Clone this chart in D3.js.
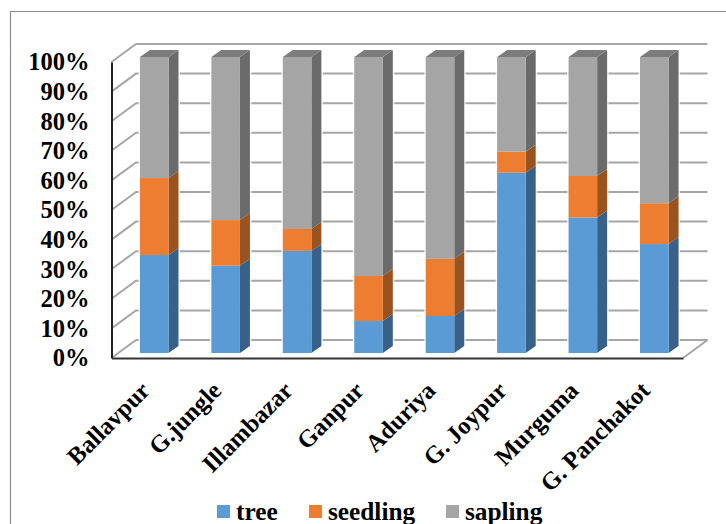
<!DOCTYPE html>
<html>
<head>
<meta charset="utf-8">
<script src="https://cdn.jsdelivr.net/npm/d3@7"></script>
<style>
    body { margin: 0; background: #fff; }
    text { font-family: "Liberation Serif", serif; font-weight: bold; fill: #000; }
</style>
</head>
<body>
<div id="chart"></div>
<script>
// values, percent of each stack
var categories = ['Ballavpur', 'G.jungle', 'Illambazar', 'Ganpur', 'Aduriya', 'G. Joypur', 'Murguma', 'G. Panchakot'];
var tree = [33.1, 29.5, 34.5, 10.8, 12.5, 60.9, 45.8, 36.8];
var seedling = [26.0, 15.4, 7.4, 15.2, 19.3, 7.1, 14.0, 13.8];
var sapling = [40.9, 55.1, 58.1, 74.0, 68.2, 32.0, 40.2, 49.4];
var seriesNames = ['tree', 'seedling', 'sapling'];
var yTicks = [0, 10, 20, 30, 40, 50, 60, 70, 80, 90, 100];

var width = 726, height = 524;
var frontColor = { tree: '#5b9bd5', seedling: '#ed7d31', sapling: '#a5a5a5' };
var sideColor = { tree: '#376189', seedling: '#9a521f', sapling: '#6b6b6b' };
var topColor = '#7c7c7c';

// depth of the bars, and of the floor/wall
var barDx = 10, barDy = -7;
var wallDx = 24.5, wallDy = -18;

var svg = d3.select('#chart').append('svg')
    .attr('width', width)
    .attr('height', height)
    .style('display', 'block');

// picture frame, only top and left show
svg.append('path')
    .attr('d', 'M10.5,524V11.5H726')
    .attr('fill', 'none')
    .attr('stroke', '#8c8c8c')
    .attr('stroke-width', 1.2);

var y = d3.scaleLinear().domain([0, 100]).range([358, 62]);
var barY = d3.scaleLinear().domain([0, 100]).range([353, 57]);
var x = d3.scaleBand().domain(categories).range([118.5, 690]).paddingInner(0.6).paddingOuter(0.3);

var floorLeft = 111.5, floorRight = 683;

// gridlines on back and side wall
var grid = svg.append('g').attr('fill', 'none').attr('stroke', '#a6a6a6').attr('stroke-width', 2);
grid.selectAll('path')
    .data(yTicks)
    .join('path')
    .attr('d', function (d) {
        return 'M' + floorLeft + ',' + y(d) + 'L' + (floorLeft + wallDx) + ',' + (y(d) + wallDy) + 'H' + (floorRight + wallDx);
    });
// right edge of the floor
grid.append('path')
    .attr('d', 'M' + floorRight + ',' + y(0) + 'L' + (floorRight + wallDx) + ',' + (y(0) + wallDy));

// stacked bars
var stack = d3.stack().keys(seriesNames);
var rows = categories.map(function (c, i) {
    return { cat: c, tree: tree[i], seedling: seedling[i], sapling: sapling[i] };
});
var layers = stack(rows);

var bars = svg.append('g');

// pale halo round each bar
bars.append('g').selectAll('rect')
    .data(categories)
    .join('rect')
    .attr('x', function (c) { return x(c) - 1.5; })
    .attr('y', barY(100) + barDy - 1.5)
    .attr('width', x.bandwidth() + barDx + 3)
    .attr('height', barY(0) - barY(100) - barDy + 3)
    .attr('fill', '#fff')
    .attr('opacity', 0.8);

layers.forEach(function (layer) {
    var g = bars.append('g');
    g.selectAll('path.side')
        .data(layer)
        .join('path')
        .attr('class', 'side')
        .attr('fill', sideColor[layer.key])
        .attr('d', function (d) {
            var x1 = x(d.data.cat) + x.bandwidth();
            return 'M' + x1 + ',' + barY(d[0]) + 'l' + barDx + ',' + barDy + 'V' + (barY(d[1]) + barDy) + 'l' + (-barDx) + ',' + (-barDy) + 'Z';
        });
    g.selectAll('rect')
        .data(layer)
        .join('rect')
        .attr('x', function (d) { return x(d.data.cat); })
        .attr('y', function (d) { return barY(d[1]); })
        .attr('width', x.bandwidth())
        .attr('height', function (d) { return barY(d[0]) - barY(d[1]); })
        .attr('fill', frontColor[layer.key]);
});
// bar tops
bars.append('g').selectAll('path')
    .data(categories)
    .join('path')
    .attr('fill', topColor)
    .attr('d', function (c) {
        return 'M' + x(c) + ',' + barY(100) + 'l' + barDx + ',' + barDy + 'h' + x.bandwidth() + 'l' + (-barDx) + ',' + (-barDy) + 'Z';
    });

// y axis
var yAxis = d3.axisLeft(y).tickValues(yTicks).tickSize(0).tickPadding(22)
    .tickFormat(function (d) { return d + '%'; });
var yG = svg.append('g')
    .attr('transform', 'translate(' + floorLeft + ',0)')
    .call(yAxis);
yG.select('.domain').attr('stroke', '#222').attr('stroke-width', 2);
yG.selectAll('text').attr('font-size', 24.5).attr('font-family', null).attr('dy', '0.32em');

// x axis
var xBand = d3.scaleBand().domain(categories).range([floorLeft, floorRight]);
var xAxis = d3.axisBottom(xBand).tickSize(0).tickPadding(0);
var xG = svg.append('g')
    .attr('transform', 'translate(0,' + y(0) + ')')
    .call(xAxis);
xG.select('.domain').attr('stroke', '#333').attr('stroke-width', 2);
xG.selectAll('text')
    .attr('font-size', 24.5)
    .attr('font-family', null)
    .attr('text-anchor', 'end')
    .attr('dy', null)
    .attr('y', null)
    .attr('transform', 'translate(4,34) rotate(-45)');

// legend
var legendX = [217, 309, 446];
var legend = svg.append('g').selectAll('g')
    .data(seriesNames)
    .join('g')
    .attr('transform', function (d, i) { return 'translate(' + legendX[i] + ',505)'; });
legend.append('rect')
    .attr('width', 13)
    .attr('height', 13)
    .attr('fill', function (d) { return frontColor[d]; });
legend.append('text')
    .attr('x', 19)
    .attr('y', 15)
    .attr('font-size', 25.3)
    .text(function (d) { return d; });
</script>
</body>
</html>
